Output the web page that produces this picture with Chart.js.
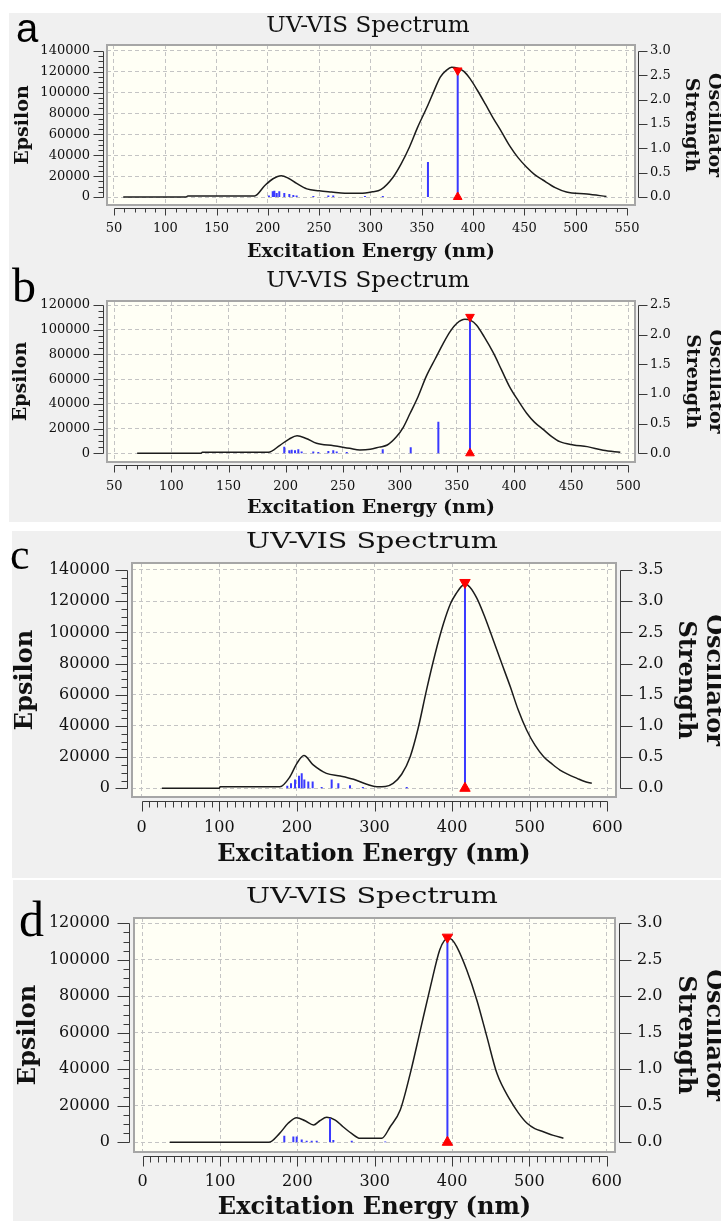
<!DOCTYPE html>
<html>
<head>
<meta charset="utf-8">
<script src="https://cdn.jsdelivr.net/npm/chart.js@4"></script>
<style>
  body { margin: 0; background: #fff; width: 721px; height: 1221px; position: relative; overflow: hidden; }
  .panel { position: absolute; background: #f0f0f0; }
  canvas { position: absolute; left: 0; }
  .letter { position: absolute; line-height: 1; color: #000; }
  .title { position: absolute; line-height: 1; white-space: nowrap; font-family: 'DejaVu Serif'; color: #111; }
</style>
</head>
<body>
<div class="panel" style="left:9px;top:13px;width:712px;height:249px"></div>
<div class="panel" style="left:9px;top:262px;width:712px;height:260px"></div>
<div class="panel" style="left:12px;top:531px;width:709px;height:347px"></div>
<div class="panel" style="left:13px;top:880px;width:708px;height:341px"></div>

<canvas id="chartA" width="721" height="262" style="top:0px"></canvas>
<canvas id="chartB" width="721" height="262" style="top:262px"></canvas>
<canvas id="chartC" width="721" height="350" style="top:530px"></canvas>
<canvas id="chartD" width="721" height="341" style="top:880px"></canvas>

<div class="letter" style="left:16px;top:6px;font:40px 'Liberation Sans'">a</div>
<div class="letter" style="left:12px;top:258px;font:48px 'Liberation Serif'">b</div>
<div class="letter" style="left:10px;top:529px;font:44px 'Liberation Serif'">c</div>
<div class="letter" style="left:19px;top:890px;font:50px 'Liberation Serif'">d</div>

<div class="title" style="left:368px;top:14px;font-size:22px;transform:translateX(-50%) scaleX(1.05)">UV-VIS Spectrum</div>
<div class="title" style="left:368px;top:269px;font-size:22px;transform:translateX(-50%) scaleX(1.05)">UV-VIS Spectrum</div>
<div class="title" style="left:372px;top:530px;font-size:22px;transform:translateX(-50%) scaleX(1.3)">UV-VIS Spectrum</div>
<div class="title" style="left:372px;top:885px;font-size:22px;transform:translateX(-50%) scaleX(1.3)">UV-VIS Spectrum</div>

<script>
// panel a
const aCurveNm = [59, 120, 122, 187, 197, 205, 213, 220, 228, 238, 250, 262, 275, 290, 302, 310, 322, 330, 338, 346, 355, 362, 368, 374, 379, 385, 391, 397, 404, 412, 419, 428, 436, 444, 452, 460, 468, 480, 491, 511, 530];
const aCurveEps = [0, 0, 1000, 1000, 11000, 17500, 20400, 18000, 13000, 7800, 6000, 4800, 3600, 3500, 5000, 7000, 19000, 32000, 48000, 67000, 86000, 102000, 115000, 121500, 124300, 123500, 120500, 113500, 102600, 89000, 76700, 62000, 48500, 37500, 28800, 21500, 16300, 9000, 4800, 2900, 500];
const aStickNm = [201, 204.7, 206.3, 208.6, 211.1, 216, 220.9, 224.8, 228, 244.3, 258.9, 263.7, 294.6, 312, 356, 385];
const aStickF = [0.03, 0.12, 0.13, 0.08, 0.12, 0.08, 0.06, 0.04, 0.03, 0.02, 0.03, 0.03, 0.02, 0.02, 0.72, 2.6];
const aXMajor = [50, 100, 150, 200, 250, 300, 350, 400, 450, 500, 550];
const aYMajor = [0, 20000, 40000, 60000, 80000, 100000, 120000, 140000];
const aFMajor = [0, 0.5, 1.0, 1.5, 2.0, 2.5, 3.0];

// panel b
const bCurveNm = [70, 126, 127, 185, 195, 203, 210, 218, 227, 242, 256, 265, 274, 282, 289, 297, 303, 309, 316, 323, 331, 338, 344, 350, 357, 362, 367, 374, 382, 389, 396, 404, 411, 418, 426, 433, 440, 452, 464, 478, 493];
const bCurveEps = [0, 0, 800, 800, 6500, 11500, 14200, 12000, 8100, 6150, 4000, 2700, 3200, 5000, 6700, 13400, 21000, 32400, 46000, 62000, 76500, 89000, 98500, 105200, 108400, 107500, 103800, 94000, 81000, 67500, 54000, 42000, 32400, 25000, 18900, 13500, 9400, 6800, 5400, 2500, 800];
const bStickNm = [198.8, 203.2, 205.3, 208.2, 211.1, 214, 224.2, 228.6, 237.4, 241.7, 244.7, 253.5, 285, 309.5, 333.7, 361.4];
const bStickF = [0.11, 0.05, 0.06, 0.05, 0.07, 0.03, 0.03, 0.02, 0.04, 0.05, 0.03, 0.02, 0.07, 0.1, 0.53, 2.3];
const bXMajor = [50, 100, 150, 200, 250, 300, 350, 400, 450, 500];
const bYMajor = [0, 20000, 40000, 60000, 80000, 100000, 120000];
const bFMajor = [0, 0.5, 1.0, 1.5, 2.0, 2.5];

// panel c
const cCurveNm = [26, 100, 101, 178, 191, 200, 209, 221, 238, 256, 273, 290, 303, 314, 324, 335, 346, 356, 367, 378, 389, 398, 406, 412, 417, 423, 432, 442, 453, 464, 475, 485, 496, 507, 518, 529, 539, 550, 561, 570, 580];
const cCurveEps = [0, 0, 1000, 1000, 7400, 16000, 21000, 15000, 9600, 7900, 5800, 2600, 1000, 1200, 3200, 9000, 20300, 38000, 63000, 86000, 105800, 118500, 125500, 129500, 131000, 129000, 121800, 110000, 95100, 80000, 65100, 50500, 37400, 27500, 20300, 15500, 11700, 8800, 6400, 4500, 3200];
const cStickNm = [187.6, 192.4, 197.6, 202.7, 206.2, 209.6, 214.7, 220.3, 231.9, 244.8, 253.4, 268.4, 285, 341.5, 416.6];
const cStickF = [0.04, 0.08, 0.14, 0.2, 0.24, 0.14, 0.11, 0.11, 0.02, 0.14, 0.08, 0.05, 0.02, 0.02, 3.3];
const cXMajor = [0, 100, 200, 300, 400, 500, 600];
const cYMajor = [0, 20000, 40000, 60000, 80000, 100000, 120000, 140000];
const cFMajor = [0, 0.5, 1.0, 1.5, 2.0, 2.5, 3.0, 3.5];

// panel d
const dCurveNm = [35, 163, 177, 188, 199, 210, 221, 229, 238, 249, 259, 270, 281, 295, 309, 320, 333, 346, 359, 372, 384, 390, 395, 400, 406, 419, 432, 445, 458, 475, 486, 497, 507, 518, 531, 544];
const dCurveEps = [0, 0, 4900, 10400, 13500, 11800, 9500, 11800, 13700, 12200, 8500, 4900, 2200, 2200, 2200, 8500, 17700, 37800, 61500, 85200, 105400, 110500, 111800, 111000, 107200, 94400, 78000, 57900, 37800, 23200, 16000, 10400, 7500, 5800, 3800, 2200];
const dStickNm = [183.1, 194.8, 199.1, 205.6, 212, 218.5, 225, 242.2, 246.5, 270.3, 313.6, 394];
const dStickF = [0.09, 0.08, 0.08, 0.04, 0.02, 0.02, 0.02, 0.33, 0.03, 0.02, 0.01, 2.81];
const dXMajor = [0, 100, 200, 300, 400, 500, 600];
const dYMajor = [0, 20000, 40000, 60000, 80000, 100000, 120000];
const dFMajor = [0, 0.5, 1.0, 1.5, 2.0, 2.5, 3.0];

// layout of each panel (canvas px)
const geoA = { h: 262, L: 107, R: 635, T: 45, B: 205, padL: 8, xMin: 43.18, xMax: 557.8, yMin: -7671, yMax: 145753, fMin: -0.1644, fMax: 3.1233,
  tick: 13, title: 19, yTickPad: 17, y2TickPad: 15, xTickPad: 16, yTitlePad: 4, y2TitlePad: -4, xTitlePad: -1,
  gap: 3, xMajLen: 7, xMinLen: 4, yMajLen: 10, yMinLen: 5, y2Len: 9, mark: 5 };
const geoB = { h: 262, L: 107, R: 635, T: 39, B: 200, padL: 8, xMin: 43.6, xMax: 505.87, yMin: -7040, yMax: 123237, fMin: -0.1467, fMax: 2.5674,
  tick: 13, title: 19, yTickPad: 17, y2TickPad: 15, xTickPad: 17, yTitlePad: 2, y2TitlePad: -5, xTitlePad: 5,
  gap: 3, xMajLen: 7, xMinLen: 4, yMajLen: 10, yMinLen: 5, y2Len: 9, mark: 5 };
const geoC = { h: 350, L: 132, R: 616, T: 33, B: 267, padL: 10, xMin: -12.5, xMax: 611.2, yMin: -5580, yMax: 144489, fMin: -0.1395, fMax: 3.6122,
  tick: 16, title: 24, yTickPad: 22, y2TickPad: 22, xTickPad: 21, yTitlePad: 1, y2TitlePad: -7, xTitlePad: 11,
  gap: 4, xMajLen: 10, xMinLen: 6, yMajLen: 12, yMinLen: 6, y2Len: 12, mark: 6 };
const geoD = { h: 341, L: 134, R: 615, T: 38, B: 272, padL: 10, xMin: -11.25, xMax: 610.7, yMin: -5315, yMax: 122904, fMin: -0.1329, fMax: 3.0726,
  tick: 16, title: 24, yTickPad: 24, y2TickPad: 22, xTickPad: 20, yTitlePad: 4, y2TitlePad: -7, xTitlePad: -1,
  gap: 4, xMajLen: 10, xMinLen: 6, yMajLen: 12, yMinLen: 6, y2Len: 12, mark: 6 };

function range(a, b, step) {
  const r = [];
  for (let v = a; v <= b + 1e-9; v += step) r.push(+v.toFixed(6));
  return r;
}
const isMajor = (arr, v) => arr.some(m => Math.abs(m - v) < 1e-6);

function spectrum(id, s, g) {
  const peak = s.stickF.indexOf(Math.max(...s.stickF));
  const sticks = [];
  s.stickNm.forEach((nm, i) => sticks.push({ x: nm, y: 0 }, { x: nm, y: s.stickF[i] }, { x: nm, y: null }));

  const xTicks = range(s.xMajor[0], s.xMajor[s.xMajor.length - 1], 10);
  const yTicks = range(0, s.yMajor[s.yMajor.length - 1], 5000);
  const tickFont = { family: 'DejaVu Serif', size: g.tick };
  const titleFont = { family: 'DejaVu Serif', size: g.title, weight: 'bold', lineHeight: 1.2 };
  const gridColor = arr => c => (c.tick && isMajor(arr, c.tick.value)) ? '#c4c4c4' : 'rgba(0,0,0,0)';

  const deco = {
    id: 'deco',
    beforeDraw(chart) {
      const { ctx, chartArea: a } = chart;
      ctx.save();
      ctx.fillStyle = '#fffff5';
      ctx.fillRect(a.left, a.top, a.right - a.left, a.bottom - a.top);
      ctx.restore();
    },
    afterDraw(chart) {
      const { ctx, chartArea: a, scales } = chart;
      ctx.save();
      ctx.strokeStyle = '#a6a6a6';
      ctx.lineWidth = 2;
      ctx.strokeRect(a.left, a.top, a.right - a.left, a.bottom - a.top);

      ctx.strokeStyle = '#3a3a3a';
      ctx.lineWidth = 1;
      ctx.beginPath();
      // bottom axis
      const ax = Math.round(a.bottom + g.gap) + 0.5;
      ctx.moveTo(Math.round(scales.x.getPixelForValue(xTicks[0])) + 0.5, ax);
      ctx.lineTo(Math.round(scales.x.getPixelForValue(xTicks[xTicks.length - 1])) + 0.5, ax);
      xTicks.forEach(v => {
        const p = Math.round(scales.x.getPixelForValue(v)) + 0.5;
        ctx.moveTo(p, ax);
        ctx.lineTo(p, ax + (isMajor(s.xMajor, v) ? g.xMajLen : g.xMinLen));
      });
      // left axis
      const ay = Math.round(a.left - g.gap) - 0.5;
      ctx.moveTo(ay, Math.round(scales.y.getPixelForValue(0)) + 0.5);
      ctx.lineTo(ay, Math.round(scales.y.getPixelForValue(yTicks[yTicks.length - 1])) + 0.5);
      yTicks.forEach(v => {
        const p = Math.round(scales.y.getPixelForValue(v)) + 0.5;
        ctx.moveTo(ay, p);
        ctx.lineTo(ay - (isMajor(s.yMajor, v) ? g.yMajLen : g.yMinLen), p);
      });
      // right axis
      const ar = Math.round(a.right + g.gap) + 0.5;
      ctx.moveTo(ar, Math.round(scales.y2.getPixelForValue(0)) + 0.5);
      ctx.lineTo(ar, Math.round(scales.y2.getPixelForValue(s.fMajor[s.fMajor.length - 1])) + 0.5);
      s.fMajor.forEach(v => {
        const p = Math.round(scales.y2.getPixelForValue(v)) + 0.5;
        ctx.moveTo(ar, p);
        ctx.lineTo(ar + g.y2Len, p);
      });
      ctx.stroke();
      ctx.restore();
    }
  };

  return new Chart(document.getElementById(id), {
    type: 'line',
    data: {
      datasets: [
        {
          data: [{ x: s.stickNm[peak], y: s.stickF[peak] }, { x: s.stickNm[peak], y: 0 }],
          yAxisID: 'y2', showLine: false, clip: false,
          pointStyle: 'triangle', pointRadius: g.mark, pointRotation: [180, 0],
          pointBackgroundColor: '#ff0000', pointBorderColor: '#ff0000', pointBorderWidth: 1
        },
        {
          data: sticks, yAxisID: 'y2',
          borderColor: '#3a3aff', borderWidth: 2, pointRadius: 0, spanGaps: false
        },
        {
          data: s.curveNm.map((x, i) => ({ x, y: s.curveEps[i] })), yAxisID: 'y',
          borderColor: '#1c1c1c', borderWidth: 1.5, pointRadius: 0, cubicInterpolationMode: 'monotone'
        }
      ]
    },
    options: {
      responsive: false,
      animation: false,
      events: [],
      layout: { padding: { left: g.padL, right: 0, top: g.T, bottom: 0 } },
      plugins: { legend: { display: false }, tooltip: { enabled: false } },
      scales: {
        x: {
          type: 'linear', position: 'bottom', min: g.xMin, max: g.xMax,
          afterBuildTicks: sc => { sc.ticks = xTicks.map(value => ({ value })); },
          afterFit: sc => { sc.height = g.h - g.B; },
          grid: { color: gridColor(s.xMajor), drawTicks: false, lineWidth: 1, borderDash: [4, 3] },
          border: { display: false, dash: [4, 3] },
          ticks: { autoSkip: false, maxRotation: 0, padding: g.xTickPad, color: '#111', font: tickFont,
            callback: v => isMajor(s.xMajor, v) ? String(v) : '' },
          title: { display: true, text: 'Excitation Energy (nm)', color: '#111', font: titleFont,
            padding: { top: 0, bottom: g.xTitlePad } }
        },
        y: {
          type: 'linear', position: 'left', min: g.yMin, max: g.yMax,
          afterBuildTicks: sc => { sc.ticks = yTicks.map(value => ({ value })); },
          afterFit: sc => { sc.width = g.L - g.padL; },
          grid: { color: gridColor(s.yMajor), drawTicks: false, lineWidth: 1, borderDash: [4, 3] },
          border: { display: false, dash: [4, 3] },
          ticks: { autoSkip: false, padding: g.yTickPad, color: '#111', font: tickFont,
            callback: v => isMajor(s.yMajor, v) ? String(v) : '' },
          title: { display: true, text: 'Epsilon', color: '#111', font: titleFont,
            padding: { top: g.yTitlePad, bottom: 0 } }
        },
        y2: {
          type: 'linear', position: 'right', min: g.fMin, max: g.fMax,
          afterBuildTicks: sc => { sc.ticks = s.fMajor.map(value => ({ value })); },
          afterFit: sc => { sc.width = 721 - g.R; },
          grid: { drawOnChartArea: false, drawTicks: false },
          border: { display: false },
          ticks: { autoSkip: false, padding: g.y2TickPad, color: '#111', font: tickFont,
            callback: v => v.toFixed(1) },
          title: { display: true, text: ['Oscillator', 'Strength'], color: '#111', font: titleFont,
            padding: { top: g.y2TitlePad, bottom: 0 } }
        }
      }
    },
    plugins: [deco]
  });
}

spectrum('chartA', { curveNm: aCurveNm, curveEps: aCurveEps, stickNm: aStickNm, stickF: aStickF, xMajor: aXMajor, yMajor: aYMajor, fMajor: aFMajor }, geoA);
spectrum('chartB', { curveNm: bCurveNm, curveEps: bCurveEps, stickNm: bStickNm, stickF: bStickF, xMajor: bXMajor, yMajor: bYMajor, fMajor: bFMajor }, geoB);
spectrum('chartC', { curveNm: cCurveNm, curveEps: cCurveEps, stickNm: cStickNm, stickF: cStickF, xMajor: cXMajor, yMajor: cYMajor, fMajor: cFMajor }, geoC);
spectrum('chartD', { curveNm: dCurveNm, curveEps: dCurveEps, stickNm: dStickNm, stickF: dStickF, xMajor: dXMajor, yMajor: dYMajor, fMajor: dFMajor }, geoD);
</script>
</body>
</html>
